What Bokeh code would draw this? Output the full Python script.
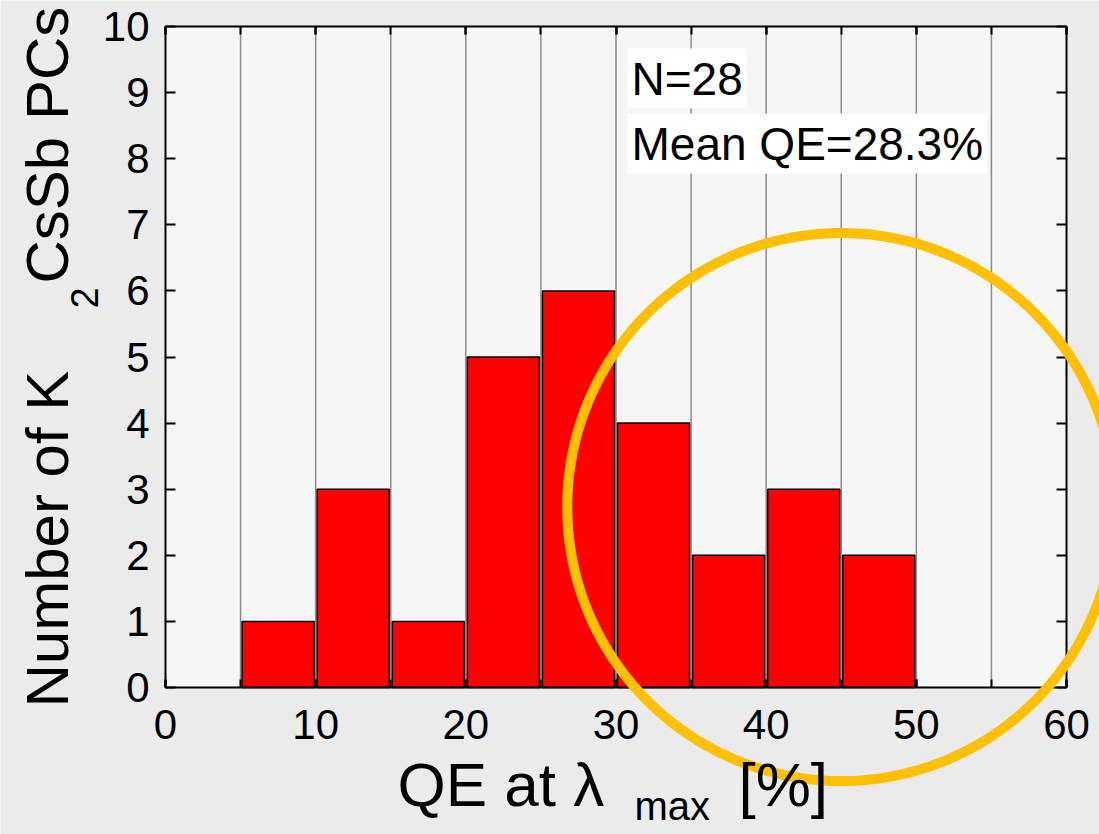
import numpy as np
from bokeh.plotting import figure
from bokeh.models import (LinearAxis, SingleIntervalTicker, Range1d, Label,
                          PolyAnnotation, ColumnDataSource)
from bokeh.embed import file_html
from bokeh.resources import INLINE

# ---- data ----
bin_centers = [7.5, 12.5, 17.5, 22.5, 27.5, 32.5, 37.5, 42.5, 47.5]
counts = [1, 3, 1, 5, 6, 4, 2, 3, 2]
x_min, x_max, x_tick_step, x_grid_step = 0, 60, 10, 5
y_min, y_max, y_tick_step = 0, 10, 1
n_label = "N=28"
mean_label = "Mean QE=28.3%"
circle_center = (45.0, 2.73)   # data units
circle_radius_px = 274

W, H = 1099, 834
# pixel placement of the axes box inside the canvas
L, R, T, B = 165, 33, 26, 147
FONT = "Liberation Sans"

sx = (W - L - R) / (x_max - x_min)
sy = (H - T - B) / (y_max - y_min)

p = figure(width=W, height=H, output_backend="svg", toolbar_location=None,
           x_range=Range1d(x_min - L / sx, x_max + R / sx),
           y_range=Range1d(y_min - B / sy, y_max + T / sy),
           min_border=0, x_axis_location=None, y_axis_location=None)
p.background_fill_color = "#ebebeb"
p.border_fill_color = "#ebebeb"
p.outline_line_color = None
p.xgrid.visible = False
p.ygrid.visible = False

def dx(px):
    return x_min + (px - L) / sx

def dy(py):
    return y_min + (H - B - py) / sy

# plot-area background
p.quad(left=[x_min], right=[x_max], bottom=[y_min], top=[y_max],
       fill_color="#f6f6f6", line_color=None)

# vertical grid lines
gx = list(np.arange(x_min + x_grid_step, x_max, x_grid_step))
p.segment(x0=gx, x1=gx, y0=[y_min] * len(gx), y1=[y_max] * len(gx),
          line_color="#8a8a8a", line_width=1.5)

# bars
src = ColumnDataSource(dict(x=bin_centers, top=counts))
p.vbar(x="x", top="top", bottom=y_min, width=4.8, source=src,
       fill_color="#ff0000", line_color="black", line_width=1.5)

# axes
def style(ax, show_labels, tick_in):
    ax.axis_line_width = 2
    ax.axis_line_color = "black"
    ax.major_tick_in = tick_in
    ax.major_tick_out = 0
    ax.minor_tick_in = tick_in
    ax.minor_tick_out = 0
    ax.major_tick_line_width = 2
    ax.minor_tick_line_width = 2
    ax.major_label_text_font = FONT
    ax.major_label_text_font_size = "42px"
    ax.major_label_text_color = "black"
    if not show_labels:
        ax.major_label_text_color = None
        ax.major_label_overrides = {float(v): "" for v in range(0, 61)}
    return ax

xb = LinearAxis(ticker=SingleIntervalTicker(interval=x_tick_step, num_minor_ticks=2),
                fixed_location=y_min, bounds=(x_min, x_max))
style(xb, True, 8)
xb.major_label_standoff = 22
xt = LinearAxis(ticker=SingleIntervalTicker(interval=x_tick_step, num_minor_ticks=2),
                fixed_location=y_max, bounds=(x_min, x_max))
style(xt, False, 8)
yl = LinearAxis(ticker=SingleIntervalTicker(interval=y_tick_step, num_minor_ticks=0),
                fixed_location=x_min, bounds=(y_min, y_max))
style(yl, True, 10)
yl.minor_tick_line_color = None
yl.major_label_standoff = 16
yr = LinearAxis(ticker=SingleIntervalTicker(interval=y_tick_step, num_minor_ticks=0),
                fixed_location=x_max, bounds=(y_min, y_max))
style(yr, False, 10)
yr.minor_tick_line_color = None
p.add_layout(xb, "below")
p.add_layout(xt, "above")
p.add_layout(yl, "left")
p.add_layout(yr, "right")

# text box
p.add_layout(Label(x=dx(627), y=dy(78), text=n_label, text_font=FONT,
                   text_font_size="46px", text_color="black",
                   background_fill_color="white", padding=4,
                   text_align="left", text_baseline="alphabetic"))
p.add_layout(Label(x=dx(627), y=dy(143), text=mean_label, text_font=FONT,
                   text_font_size="46px", text_color="black",
                   background_fill_color="white", padding=4,
                   text_align="left", text_baseline="alphabetic"))

# yellow circle (annotation)
t = np.linspace(0, 2 * np.pi, 361)
cx, cy = circle_center
xs = list(cx + circle_radius_px / sx * np.cos(t))
ys = list(cy + circle_radius_px / sy * np.sin(t))
p.add_layout(PolyAnnotation(xs=xs, ys=ys, fill_alpha=0, fill_color=None,
                            line_color="#ffc000", line_alpha=1.0, line_width=10))

# y label pieces
ang = np.pi / 2
p.add_layout(Label(x=dx(47), y=dy(707), text="Number of K", angle=ang,
                   text_font=FONT, text_font_size="60px", text_color="black",
                   text_align="left", text_baseline="alphabetic"))
p.add_layout(Label(x=dx(84), y=dy(308), text="2", angle=ang,
                   text_font=FONT, text_font_size="38px", text_color="black",
                   text_align="left", text_baseline="alphabetic"))
p.add_layout(Label(x=dx(47), y=dy(283), text="CsSb PCs", angle=ang,
                   text_font=FONT, text_font_size="60px", text_color="black",
                   text_align="left", text_baseline="alphabetic"))

# x label pieces
p.add_layout(Label(x=dx(397), y=dy(784), text="QE at \u03bb",
                   text_font=FONT, text_font_size="62px", text_color="black",
                   text_align="left", text_baseline="alphabetic"))
p.add_layout(Label(x=dx(634), y=dy(805), text="max",
                   text_font=FONT, text_font_size="40px", text_color="black",
                   text_align="left", text_baseline="alphabetic"))
p.add_layout(Label(x=dx(738), y=dy(784), text="[%]",
                   text_font=FONT, text_font_size="62px", text_color="black",
                   text_align="left", text_baseline="alphabetic"))

open("out.html", "w").write(file_html(p, INLINE))
